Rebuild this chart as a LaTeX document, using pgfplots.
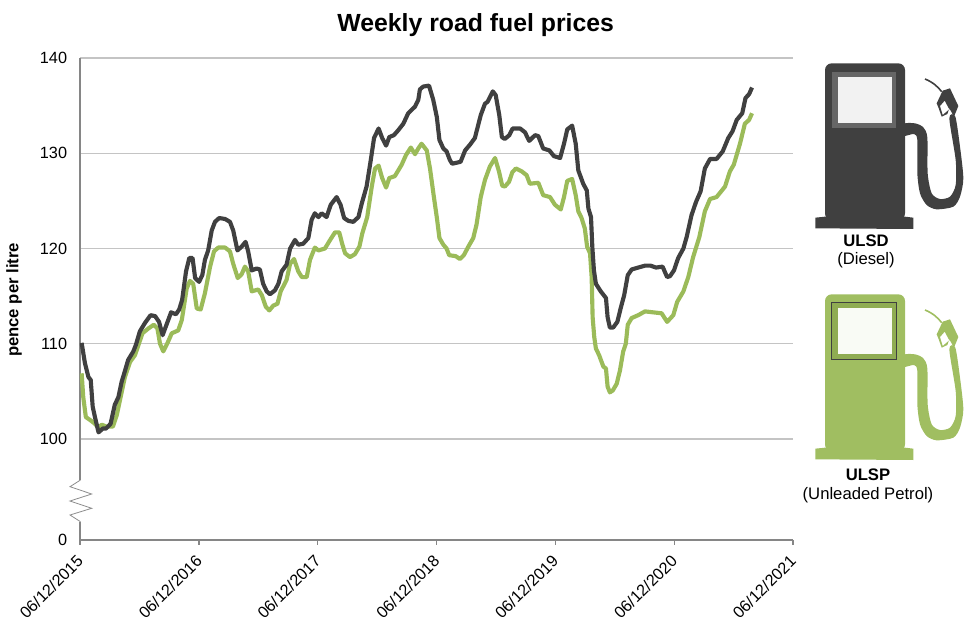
\documentclass[border=0pt]{standalone}
\usepackage{pgfplots}
\pgfplotsset{compat=1.18}
\usepackage{pgfplotstable}
\usepackage{fontspec}
\setmainfont{Liberation Sans}

\definecolor{diesel}{HTML}{404040}
\definecolor{petrol}{HTML}{9BBB59}
\definecolor{gridc}{HTML}{C4C4C4}
\definecolor{axisc}{HTML}{868686}

% x = days since 06/12/2015, y = pence per litre
\pgfplotstableread{
d p
5 110.1
15 108.0
26 106.5
33 106.2
39 103.4
46 102.3
57 100.7
70 101.1
80 101.1
94 101.6
107 103.6
118 104.4
128 106.0
136 106.9
148 108.3
164 109.2
172 109.9
184 111.3
200 112.2
217 113.0
231 112.9
243 112.3
254 110.9
267 112.1
280 113.3
295 113.1
305 113.6
314 114.6
326 117.6
336 119.0
346 119.0
354 116.9
366 116.5
376 117.2
384 118.8
394 119.8
405 121.9
415 122.8
428 123.2
446 123.1
461 122.8
471 121.9
484 119.8
497 120.2
509 120.7
517 119.7
528 117.7
543 117.9
553 117.8
563 116.3
574 115.5
584 115.2
599 115.6
610 116.3
620 117.6
635 118.3
646 120.0
661 120.9
671 120.4
686 120.5
702 121.1
712 123.0
722 123.7
733 123.3
743 123.7
758 123.3
771 124.6
789 125.4
801 124.6
812 123.2
825 122.9
840 122.8
856 123.3
866 124.7
881 126.5
894 129.3
904 131.6
918 132.6
929 131.6
941 130.8
951 131.7
965 131.9
978 132.4
994 133.1
1009 134.2
1030 134.9
1040 135.6
1045 136.7
1055 137.0
1073 137.1
1086 135.6
1097 133.8
1105 131.4
1117 130.5
1127 130.2
1137 129.3
1144 128.9
1170 129.1
1184 130.3
1199 130.9
1214 131.6
1232 134.0
1245 135.2
1253 135.4
1269 136.5
1278 136.1
1289 134.0
1297 131.7
1306 131.5
1320 131.9
1330 132.6
1353 132.6
1368 132.2
1381 131.3
1399 131.9
1409 131.8
1424 130.5
1443 130.3
1457 129.7
1476 129.5
1488 131.0
1498 132.5
1513 132.9
1524 131.0
1532 128.2
1547 126.8
1558 126.1
1563 124.2
1571 123.3
1575 120.2
1580 117.7
1586 116.3
1601 115.5
1617 114.8
1622 112.8
1629 111.7
1639 111.7
1652 112.3
1662 113.7
1673 115.1
1684 117.2
1696 117.8
1716 118.0
1737 118.2
1754 118.2
1771 118.0
1791 118.1
1805 117.0
1814 117.1
1826 117.7
1839 119.0
1855 120.0
1865 121.2
1880 123.5
1894 124.9
1908 126.0
1921 128.4
1937 129.4
1957 129.4
1976 130.2
1993 131.6
2006 132.3
2019 133.5
2036 134.2
2046 135.8
2057 136.2
2066 136.9
}\ulsd

\pgfplotstableread{
d p
5 106.9
10 104.4
18 102.3
31 102.0
46 101.6
56 101.2
67 101.5
82 101.3
101 101.3
113 102.5
123 104.1
138 106.5
154 108.1
169 108.8
192 111.1
210 111.6
227 112.0
238 111.6
246 110.0
256 109.2
268 110.0
282 111.1
302 111.4
313 112.5
328 115.8
338 116.6
348 116.3
359 113.7
371 113.6
384 115.3
400 118.1
412 119.7
425 120.1
446 120.1
461 119.7
471 118.4
485 116.9
497 117.3
507 118.1
517 117.6
528 115.5
548 115.7
559 115.1
571 113.9
582 113.5
594 114.0
607 114.2
617 115.5
635 116.7
646 118.4
658 118.9
671 117.6
682 117.0
697 117.0
707 118.8
722 120.1
733 119.8
753 120.0
769 120.9
784 121.7
797 121.7
806 120.5
815 119.5
830 119.1
845 119.4
859 120.2
868 121.6
883 123.3
897 126.5
907 128.4
918 128.7
929 127.4
941 126.4
951 127.4
968 127.6
989 128.8
1002 129.8
1017 130.6
1030 129.9
1040 130.5
1050 131.0
1066 130.3
1076 128.4
1088 125.4
1098 123.0
1105 121.1
1117 120.4
1127 120.0
1135 119.3
1155 119.2
1168 118.9
1180 119.3
1194 120.2
1209 121.1
1219 122.5
1232 125.4
1245 127.2
1260 128.6
1276 129.5
1288 128.1
1298 126.6
1306 126.5
1319 127.0
1329 128.0
1340 128.4
1358 128.1
1373 127.7
1383 126.8
1409 126.9
1424 125.6
1445 125.4
1460 124.6
1478 124.1
1488 125.4
1498 127.1
1513 127.3
1524 125.6
1532 123.9
1542 123.2
1552 122.1
1559 120.2
1568 119.5
1573 117.0
1576 112.8
1581 110.7
1586 109.5
1596 108.8
1609 107.6
1617 107.4
1622 105.5
1629 104.9
1638 105.1
1650 105.8
1660 107.2
1670 109.2
1678 110.0
1684 112.0
1696 112.7
1716 113.0
1737 113.4
1762 113.3
1788 113.2
1805 112.3
1824 113.0
1836 114.4
1855 115.5
1870 117.0
1885 119.1
1904 121.2
1921 123.9
1937 125.2
1957 125.4
1983 126.5
1998 128.1
2010 128.8
2029 131.0
2044 133.1
2057 133.5
2066 134.2
}\ulsp

% fuel pump, drawn in a 3x pixel grid: colour, origin, bezel, screen
\newcommand{\pump}[4]{%
\begin{scope}[shift={(#2)},x=0.25pt,y=-0.25pt]
  \fill[#1,rounded corners=5pt] (105,40) -- (105,510) -- (345,510) -- (345,40) -- cycle;
  \fill[#1] (76,503) -- (105,500) -- (345,500) -- (370,503) -- (370,537) -- (76,535) -- cycle;
  \fill[#3,draw=black!75,line width=0.6pt] (123,65) rectangle (319,235);
  \fill[#4] (143,80) -- (306,80) -- (306,219) -- (143,219) -- cycle;
  \fill[#1] plot[smooth cycle,tension=0.45] coordinates {
    (340,222) (375,220) (400,232) (412,262) (413,370) (425,430) (450,447) (480,440) (497,405)
    (497,330) (478,205) (496,200) (510,290) (520,385) (510,440) (490,470) (440,478) (410,465)
    (390,430) (382,370) (382,270) (372,252) (340,257)};
  \draw[#1,line width=1.2pt] (405,87) .. controls (430,97) and (445,112) .. (455,125);
  \fill[#1,even odd rule] (440,160) -- (458,122) -- (480,115) -- (505,168) -- (492,200) -- (478,175) -- (472,192) -- (455,200) -- (445,172) -- cycle
     (450,168) -- (464,152) -- (478,178) -- (458,195) -- cycle;
\end{scope}}

\begin{document}
\begin{tikzpicture}
\useasboundingbox (0,0) rectangle (729pt,-468pt);
\begin{axis}[
    at={(60pt,-405pt)},
    anchor=south west,
    scale only axis,
    width=534.75pt,
    height=361.5pt,
    xmin=0, xmax=2192,
    ymin=89.4, ymax=140,
    axis x line*=bottom,
    axis y line*=left,
    axis line style={axisc,line width=0.9pt},
    xtick={0,366,731,1096,1461,1827,2192},
    xticklabels={06/12/2015,06/12/2016,06/12/2017,06/12/2018,06/12/2019,06/12/2020,06/12/2021},
    ytick={89.4,100,110,120,130,140},
    yticklabels={0,100,110,120,130,140},
    ymajorgrids,
    grid style={gridc,line width=0.9pt},
    tick align=outside,
    major tick length=3.5pt,
    x tick style={axisc,line width=0.9pt},
    y tick style={draw=none},
    tick label style={font=\fontsize{12.2}{14}\selectfont,text=black},
    xticklabel style={rotate=45,anchor=north east,inner sep=1pt,xshift=-6pt,yshift=-1.5pt},
    yticklabel style={inner sep=0pt,xshift=-6pt},
    /pgf/number format/assume math mode=true,
    title={Weekly road fuel prices},
    every axis title/.style={at={(axis description cs:0.555,1.068)},anchor=center,font=\bfseries\fontsize{18.6}{21}\selectfont},
    ylabel={pence per litre},
    every axis y label/.style={at={(axis description cs:-0.0926,0.498)},rotate=90,anchor=center,font=\bfseries\fontsize{12.5}{14}\selectfont},
]
\addplot[petrol,line width=3.1pt,line join=round] table[x=d,y=p] {\ulsp};
\addplot[diesel,line width=3.1pt,line join=round] table[x=d,y=p] {\ulsd};
\end{axis}

\begin{scope}[x=0.75pt,y=-0.75pt]
% axis break
\draw[white,line width=2pt] (80,480) -- (80,522);
\draw[black!45,line width=0.6pt] (80.5,480) -- (70,486.7) -- (91.7,494) -- (70,501) -- (91.7,508.3) -- (70,515) -- (80.5,521.7);

\pump{diesel}{790,50}{black!60}{white!95!black}
\pump{petrol!95!white}{790,281}{petrol!92!black}{white!94!petrol}

\node[font=\bfseries\fontsize{12.5}{14}\selectfont] at (866,241) {ULSD};
\node[font=\fontsize{12.5}{14}\selectfont] at (866,260) {(Diesel)};
\node[font=\bfseries\fontsize{12.5}{14}\selectfont] at (868,475) {ULSP};
\node[font=\fontsize{12.5}{14}\selectfont] at (868,495) {(Unleaded Petrol)};
\end{scope}
\end{tikzpicture}
\end{document}
